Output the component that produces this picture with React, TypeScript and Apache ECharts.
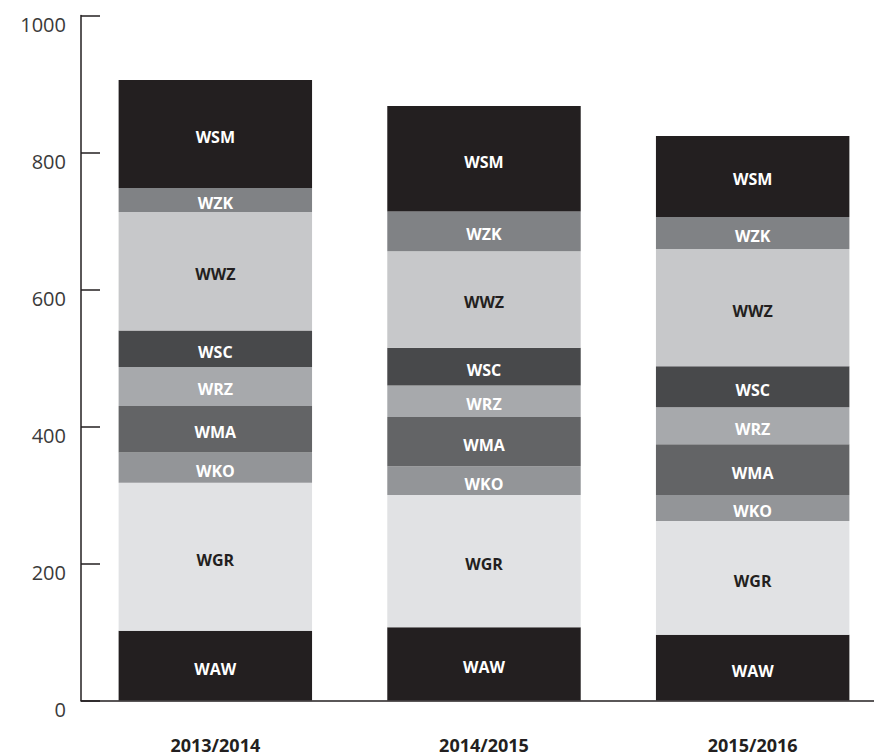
import React, { useEffect, useRef } from "react";
import * as echarts from "echarts";

const categories = ["2013/2014", "2014/2015", "2015/2016"];
const seriesNames = ["WAW", "WGR", "WKO", "WMA", "WRZ", "WSC", "WWZ", "WZK", "WSM"];
const WAW = [102, 107, 96];
const WGR = [216, 193, 166];
const WKO = [44, 42, 38];
const WMA = [68, 72, 74];
const WRZ = [57, 46, 54];
const WSC = [53, 55, 60];
const WWZ = [173, 141, 171];
const WZK = [35, 58, 47];
const WSM = [158, 154, 118];
const yTicks = [0, 200, 400, 600, 800, 1000];

const seriesValues = [WAW, WGR, WKO, WMA, WRZ, WSC, WWZ, WZK, WSM];
const fillColors = ["#231f20", "#e1e2e4", "#939598", "#636466", "#a7a9ac", "#48494b", "#c7c8ca", "#808285", "#231f20"];
const labelColors = ["#ffffff", "#231f20", "#ffffff", "#ffffff", "#ffffff", "#ffffff", "#231f20", "#ffffff", "#ffffff"];

export default function App() {
  const ref = useRef<HTMLDivElement>(null);
  useEffect(() => {
    if (!ref.current) return;
    const chart = echarts.init(ref.current, null, { renderer: "svg" });
    const axisColor = "#231f20";
    chart.setOption({
      animation: false,
      backgroundColor: "#ffffff",
      grid: {
        left: 81,
        top: 15.5,
        width: 806,
        bottom: 54.5,
        containLabel: false,
        outerBoundsMode: "none",
      },
      xAxis: {
        type: "category",
        data: categories,
        axisLine: { lineStyle: { color: axisColor, width: 1.5 } },
        axisTick: { inside: true, length: 16, lineStyle: { color: axisColor, width: 1.5 } },
        axisLabel: {
          margin: 35,
          color: axisColor,
          fontSize: 18,
          lineHeight: 18,
          fontWeight: "bold",
          fontFamily: "Open Sans",
        },
      },
      yAxis: {
        type: "value",
        min: 0,
        max: 1000,
        interval: 200,
        splitLine: { show: false },
        axisLine: { show: true, lineStyle: { color: axisColor, width: 1.5 } },
        axisTick: { show: true, inside: true, length: 19, lineStyle: { color: axisColor, width: 1.5 } },
        axisLabel: {
          margin: 15,
          color: "#3a3a3a",
          fontSize: 20,
          lineHeight: 14,
          verticalAlign: "top",
          padding: [2, 0, 0, 0],
          fontFamily: "Open Sans",
          fontWeight: "normal",
          formatter: (v: number) => (yTicks.includes(v) ? String(v) : ""),
        },
      },
      series: seriesNames.map((name, i) => ({
        name,
        type: "bar",
        stack: "total",
        barWidth: "72%",
        data: seriesValues[i],
        itemStyle: { color: fillColors[i] },
        label: {
          show: true,
          position: "inside",
          offset: [0, 3],
          formatter: name,
          color: labelColors[i],
          fontSize: 16,
          fontWeight: "bold",
          fontFamily: "Open Sans",
        },
      })),
    });
    return () => chart.dispose();
  }, []);
  return (
    <div
      ref={ref}
      style={{ position: "absolute", left: 0, top: 0, width: 874, height: 755, overflow: "hidden" }}
    />
  );
}
